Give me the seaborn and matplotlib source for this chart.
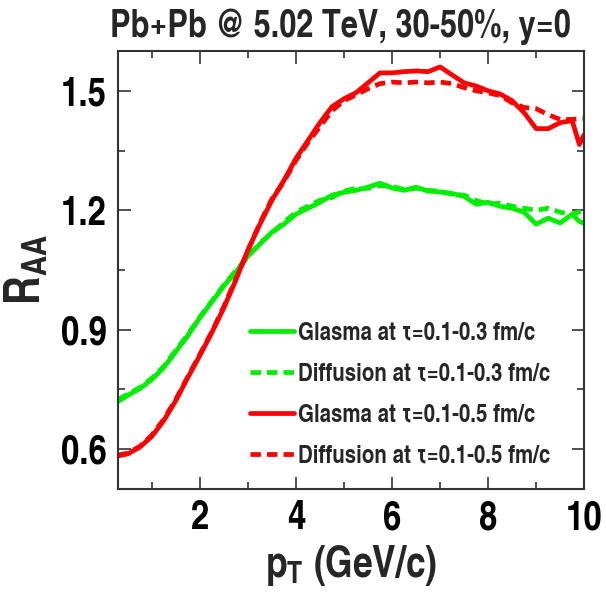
import matplotlib
matplotlib.use("Agg")
import matplotlib.pyplot as plt
from matplotlib import font_manager
from matplotlib.ticker import MultipleLocator
import seaborn as sns
import pandas as pd

# transverse momentum grid (GeV/c)
pt = [0.3, 0.5, 0.75, 1.0, 1.25, 1.5, 1.75, 2.0, 2.25, 2.5, 2.75, 3.0, 3.25, 3.5,
      3.75, 4.0, 4.25, 4.5, 4.75, 5.0, 5.25, 5.5, 5.75, 6.0, 6.25, 6.5, 6.75, 7.0,
      7.25, 7.5, 7.75, 8.0, 8.25, 8.5, 8.75, 9.0, 9.25, 9.5, 9.75, 9.9, 10.0]

# R_AA, Glasma / diffusion with tau = 0.1-0.3 fm/c
glasma_03 = [0.720, 0.735, 0.752, 0.775, 0.805, 0.845, 0.885, 0.930, 0.970, 1.010,
             1.045, 1.085, 1.115, 1.145, 1.165, 1.190, 1.205, 1.220, 1.238, 1.245,
             1.250, 1.258, 1.268, 1.256, 1.250, 1.258, 1.248, 1.246, 1.242, 1.235,
             1.215, 1.220, 1.210, 1.205, 1.195, 1.165, 1.180, 1.168, 1.190, 1.172, 1.167]
diffusion_03 = [0.725, 0.738, 0.755, 0.778, 0.808, 0.848, 0.888, 0.932, 0.972, 1.012,
                1.048, 1.083, 1.118, 1.142, 1.170, 1.195, 1.210, 1.225, 1.232, 1.248,
                1.255, 1.255, 1.262, 1.260, 1.252, 1.255, 1.250, 1.248, 1.240, 1.238,
                1.225, 1.215, 1.218, 1.210, 1.205, 1.200, 1.205, 1.195, 1.190, 1.196, 1.200]

# R_AA, Glasma / diffusion with tau = 0.1-0.5 fm/c
glasma_05 = [0.583, 0.588, 0.605, 0.632, 0.672, 0.722, 0.780, 0.835, 0.893, 0.955,
             1.025, 1.100, 1.165, 1.225, 1.275, 1.330, 1.375, 1.420, 1.460, 1.480,
             1.495, 1.520, 1.545, 1.545, 1.548, 1.550, 1.548, 1.560, 1.540, 1.520,
             1.512, 1.500, 1.492, 1.475, 1.445, 1.405, 1.405, 1.420, 1.425, 1.365, 1.390]
diffusion_05 = [0.585, 0.590, 0.607, 0.635, 0.675, 0.725, 0.782, 0.838, 0.895, 0.958,
                1.028, 1.098, 1.168, 1.228, 1.272, 1.325, 1.370, 1.410, 1.450, 1.475,
                1.490, 1.505, 1.518, 1.522, 1.520, 1.522, 1.520, 1.522, 1.518, 1.508,
                1.500, 1.495, 1.488, 1.470, 1.458, 1.455, 1.440, 1.428, 1.428, 1.430, 1.430]

labels = ["Glasma at \u03c4=0.1-0.3 fm/c", "Diffusion at \u03c4=0.1-0.3 fm/c",
          "Glasma at \u03c4=0.1-0.5 fm/c", "Diffusion at \u03c4=0.1-0.5 fm/c"]
series = [glasma_03, diffusion_03, glasma_05, diffusion_05]

frames = []
for lab, vals in zip(labels, series):
    frames.append(pd.DataFrame({"pT": pt, "RAA": vals, "model": lab}))
df = pd.concat(frames, ignore_index=True)

sns.set_style("ticks")

# pick a narrow bold sans face
names = {f.name for f in font_manager.fontManager.ttflist}
candidates = ["Liberation Sans Narrow", "Arial Narrow", "Nimbus Sans Narrow",
              "TeX Gyre Heros Cn", "Roboto Condensed", "Asap Condensed",
              "Barlow Semi Condensed", "Liberation Sans"]
fam = next(c for c in candidates if c in names)
plt.rcParams["font.family"] = [fam, "DejaVu Sans"]
plt.rcParams["font.weight"] = "bold"
plt.rcParams["mathtext.fontset"] = "custom"
plt.rcParams["mathtext.rm"] = f"{fam}:bold"
plt.rcParams["mathtext.bf"] = f"{fam}:bold"
plt.rcParams["mathtext.it"] = f"{fam}:bold"

fig = plt.figure(figsize=(6.06, 5.97), dpi=100)
ax = fig.add_axes([0.195, 0.181, 0.769, 0.7336])

green = "#00ee00"
red = "#ff0000"
palette = {labels[0]: green, labels[1]: green, labels[2]: red, labels[3]: red}
dashes = {labels[0]: "", labels[1]: (2.2, 1.3), labels[2]: "", labels[3]: (2.2, 1.3)}

sns.lineplot(data=df, x="pT", y="RAA", hue="model", style="model",
             palette=palette, dashes=dashes, hue_order=labels, style_order=labels,
             linewidth=3.4, ax=ax, legend=True)

ax.set_xlim(0.3, 10)
ax.set_ylim(0.5, 1.6)
ax.xaxis.set_minor_locator(MultipleLocator(1))
ax.yaxis.set_minor_locator(MultipleLocator(0.15))
ax.set_yticks([0.6, 0.9, 1.2, 1.5])
ax.set_yticklabels(["0.6", "0.9", "1.2", "1.5"])
ax.set_xticks([2, 4, 6, 8, 10])
ax.set_xticklabels(["2", "4", "6", "8", "10"])

ax.tick_params(which="both", direction="in", top=True, right=True,
               colors="#333333", width=1.2, labelcolor="black")
ax.tick_params(which="major", length=9, labelsize=29, pad=8)
ax.tick_params(which="minor", length=5)
for s in ax.spines.values():
    s.set_color("#333333")
    s.set_linewidth(1.5)

ax.set_xlabel(r"p$_\mathrm{T}$ (GeV/c)", fontsize=31, fontweight="bold", labelpad=4)
ax.set_ylabel(r"R$_\mathrm{AA}$", fontsize=35, fontweight="bold", labelpad=8)
ax.set_title("Pb+Pb @ 5.02 TeV, 30-50%, y=0", fontsize=27, fontweight="bold",
             x=0.476, pad=10)

leg = ax.legend(loc="lower left", bbox_to_anchor=(0.283, 0.048), frameon=False,
                fontsize=18, handlelength=1.75, handletextpad=0.15, labelspacing=0.72,
                borderpad=0.0, borderaxespad=0.0)
for t in leg.get_texts():
    t.set_fontweight("bold")

fig.savefig("out.png", dpi=100)
